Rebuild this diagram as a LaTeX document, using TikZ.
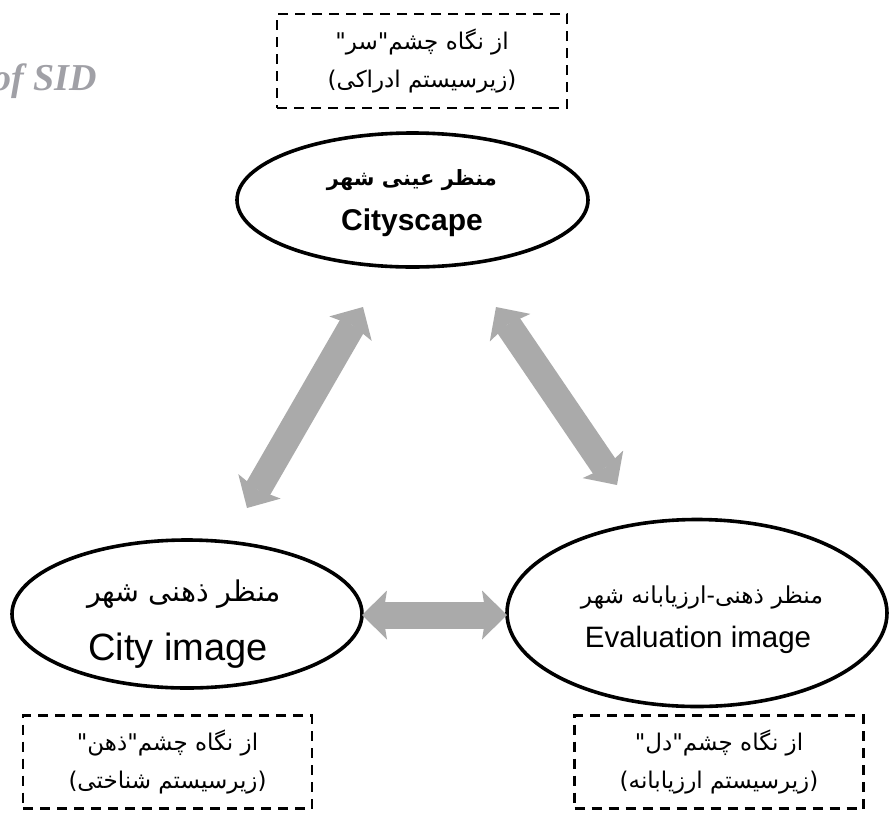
\documentclass[tikz,border=0pt]{standalone}
\usepackage{fontspec}
\setmainfont{Liberation Sans}
\newfontfamily\fa[Script=Arabic]{DejaVu Sans}
\newfontfamily\wmfont{Liberation Serif}
\TeXXeTstate=1
\usetikzlibrary{shapes.geometric,arrows.meta}
\definecolor{arrgray}{RGB}{170,170,170}
\definecolor{wmgray}{RGB}{160,160,166}
\begin{document}
\begin{tikzpicture}[x=1pt,y=-1pt,
  oval/.style={draw=black, line width=3.6pt, ellipse, inner sep=0pt},
  dbox/.style={draw=black, line width=2.6pt, dash pattern=on 10pt off 7pt, rectangle, inner sep=0pt, align=center,
    font=\fa\fontsize{23}{38}\selectfont},
  txt/.style={anchor=base, inner sep=0pt},
  bigarrow/.style={draw=arrgray, line width=27pt,
    {Stealth[length=25pt,width=49pt,inset=4pt,line width=0pt]}-{Stealth[length=25pt,width=49pt,inset=4pt,line width=0pt]}}
]
\useasboundingbox (0,0) rectangle (889,812);

% watermark
\node[anchor=base east, inner sep=0pt, text=wmgray, font=\wmfont\bfseries\itshape\fontsize{38}{40}\selectfont] (wm) at (97,90) {of SID};

% dashed boxes
\node[dbox, minimum width=290pt, minimum height=94pt] (ptop) at (422,61)
  {\beginR از نگاه چشم"سر"\endR\\\beginR (زیرسیستم ادراکی)\endR};
\node[dbox, minimum width=289pt, minimum height=93pt] (pleft) at (167.5,762)
  {\beginR از نگاه چشم"ذهن"\endR\\\beginR (زیرسیستم شناختی)\endR};
\node[dbox, minimum width=289pt, minimum height=93pt] (pright) at (719,762)
  {\beginR از نگاه چشم"دل"\endR\\\beginR (زیرسیستم ارزیابانه)\endR};

% ellipses
\node[oval, minimum width=351pt, minimum height=134pt] (cs) at (412.5,200) {};
\node[oval, minimum width=350pt, minimum height=148pt] (ci) at (187,614) {};
\node[oval, minimum width=380pt, minimum height=187pt] (ei) at (697,613) {};

% ellipse texts
\node[txt, font=\fa\bfseries\fontsize{21}{25}\selectfont] (csfa) at (412,185) {\beginR منظر عینی شهر\endR};
\node[txt, font=\bfseries\fontsize{30}{34}\selectfont] (csen) at (412,230) {Cityscape};
\node[txt, font=\fa\fontsize{28.5}{32}\selectfont] (cifa) at (184,601) {\beginR منظر ذهنی شهر\endR};
\node[txt, font=\fontsize{38}{42}\selectfont] (cien) at (178,660) {City image};
\node[txt, font=\fa\fontsize{23.3}{27}\selectfont] (eifa) at (702,603) {\beginR منظر ذهنی-ارزیابانه شهر\endR};
\node[txt, font=\fontsize{29.5}{33}\selectfont] (eien) at (698,647) {Evaluation image};

% arrow end points
\coordinate (a1) at (363,307);
\coordinate (a2) at (247,508);
\coordinate (b1) at (496,307);
\coordinate (b2) at (617,485);
\coordinate (c1) at (362,615);
\coordinate (c2) at (507,615);

\draw[bigarrow] (a1) -- (a2);
\draw[bigarrow] (b1) -- (b2);
\draw[bigarrow] (c1) -- (c2);
\end{tikzpicture}
\end{document}
